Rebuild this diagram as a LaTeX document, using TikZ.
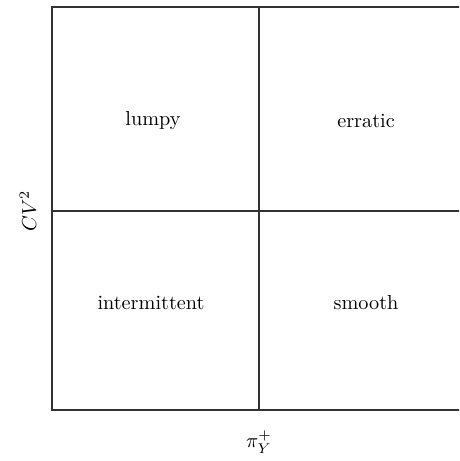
\documentclass[tikz,border=0pt]{standalone}
\usepackage{amsmath}
\usepackage{tikz}
\usetikzlibrary{positioning}
\definecolor{gridgray}{RGB}{50,50,50}

\begin{document}
\begin{tikzpicture}[
      x=0.01737cm, y=-0.01737cm,
      frame/.style={draw=gridgray, line width=0.75pt},
      quad/.style={font=\normalsize, text=black, inner sep=0pt},
      axis/.style={font=\normalsize, inner sep=0pt}
    ]
      \useasboundingbox (0,0) rectangle (459,461);
      \clip (0,0) rectangle (459,461);

      % Frame and quadrant dividers
      \coordinate (tl) at (52,7);
      \coordinate (br) at (466,410);
      \coordinate (mid) at (259,211);
      \draw[frame] (tl) rectangle (br);
      \draw[frame] (tl -| mid) -- (br -| mid);
      \draw[frame] (tl |- mid) -- (br |- mid);

      % Quadrant labels
      \node[quad] (lumpy) at (153,121) {lumpy};
      \node[quad] (erratic) at (366,121) {erratic};
      \node[quad] (intermittent) at (151,303) {intermittent};
      \node[quad] (smooth) at (366,303) {smooth};

      % Axis labels
      \node[axis, rotate=90] (cv) at (28,211) {$CV^2$};
      \node[axis] (pi) at (259,442) {$\pi_Y^+$};
    \end{tikzpicture}
\end{document}
